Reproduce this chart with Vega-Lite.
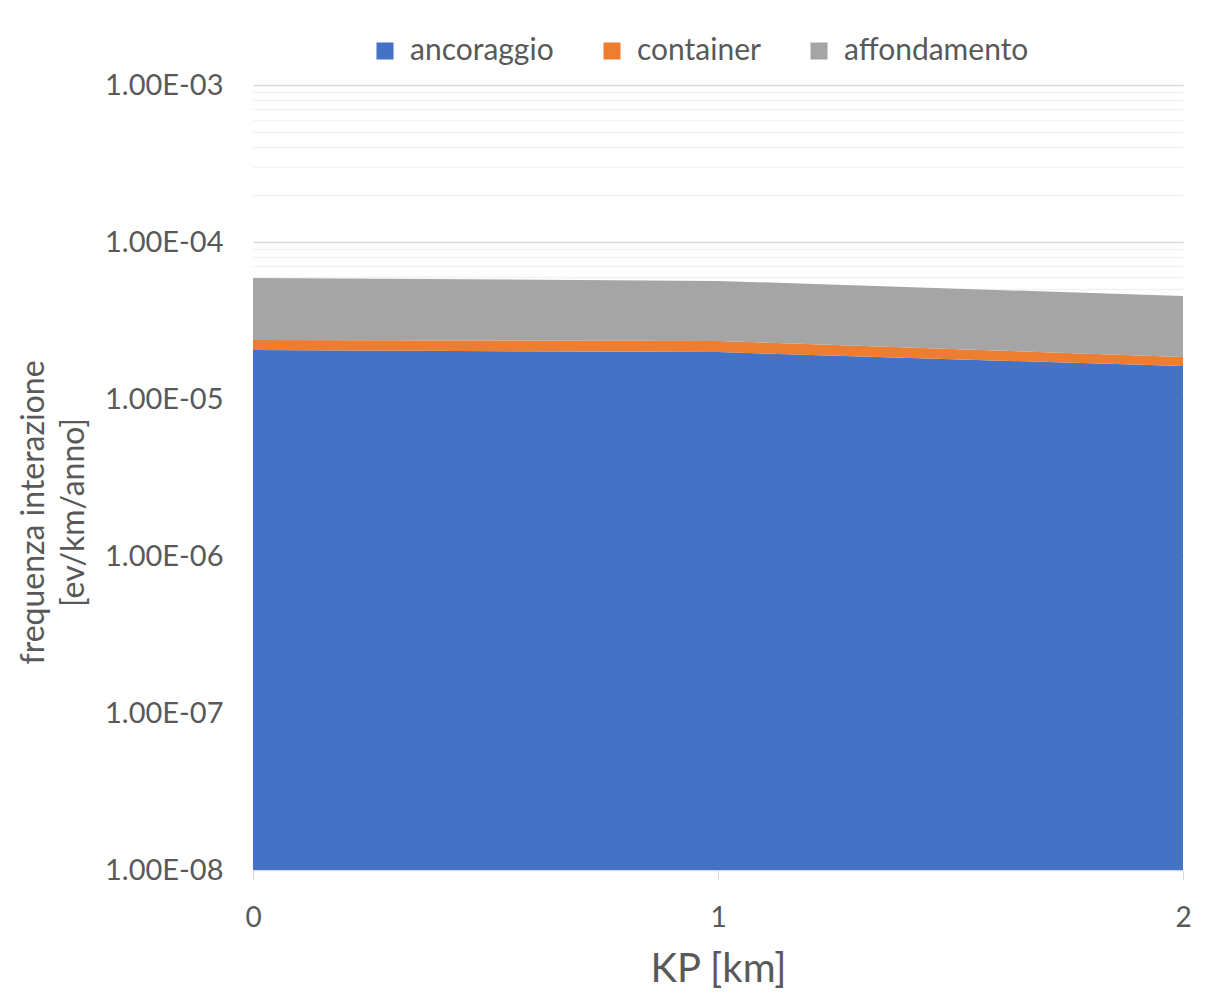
{
  "$schema": "https://vega.github.io/schema/vega-lite/v6.json",
  "autosize": "none",
  "width": 930,
  "height": 785,
  "padding": {"left": 253, "top": 85, "right": 24, "bottom": 135},
  "background": "white",
  "config": {
    "font": "Lato",
    "view": {"stroke": null},
    "axis": {"labelColor": "#595959", "titleColor": "#595959", "titleFontWeight": "normal", "labelFont": "Lato", "titleFont": "Lato"}
  },
  "data": {
    "values": [
      {"KP": 0, "serie": "ancoraggio", "k": 1, "freq": 2.05e-5},
      {"KP": 1, "serie": "ancoraggio", "k": 1, "freq": 1.99e-5},
      {"KP": 2, "serie": "ancoraggio", "k": 1, "freq": 1.62e-5},
      {"KP": 0, "serie": "container", "k": 2, "freq": 0.33e-5},
      {"KP": 1, "serie": "container", "k": 2, "freq": 0.35e-5},
      {"KP": 2, "serie": "container", "k": 2, "freq": 0.23e-5},
      {"KP": 0, "serie": "affondamento", "k": 3, "freq": 3.52e-5},
      {"KP": 1, "serie": "affondamento", "k": 3, "freq": 3.31e-5},
      {"KP": 2, "serie": "affondamento", "k": 3, "freq": 2.68e-5}
    ]
  },
  "mark": {"type": "area", "interpolate": "linear"},
  "encoding": {
    "x": {
      "field": "KP", "type": "quantitative",
      "scale": {"domain": [0, 2], "nice": false, "zero": false},
      "axis": {
        "tickCount": 2, "format": "d", "grid": false, "labelOverlap": false, "labelFlush": false,
        "domainColor": "#D9D9D9", "tickColor": "#D9D9D9", "tickSize": 10,
        "labelFontSize": 28, "labelPadding": 24,
        "title": "KP [km]", "titleFontSize": 40, "titlePadding": 17
      }
    },
    "y": {
      "field": "freq", "type": "quantitative", "stack": "zero",
      "scale": {"type": "log", "domain": [1e-8, 1e-3], "nice": false, "clamp": true},
      "axis": {
        "values": [1e-8, 2e-8, 3e-8, 4e-8, 5e-8, 6e-8, 7e-8, 8e-8, 9e-8,
                   1e-7, 2e-7, 3e-7, 4e-7, 5e-7, 6e-7, 7e-7, 8e-7, 9e-7,
                   1e-6, 2e-6, 3e-6, 4e-6, 5e-6, 6e-6, 7e-6, 8e-6, 9e-6,
                   1e-5, 2e-5, 3e-5, 4e-5, 5e-5, 6e-5, 7e-5, 8e-5, 9e-5,
                   1e-4, 2e-4, 3e-4, 4e-4, 5e-4, 6e-4, 7e-4, 8e-4, 9e-4, 1e-3],
        "labelExpr": "abs(log(datum.value)/LN10 - round(log(datum.value)/LN10)) < 1e-6 ? '1.00E-0' + (-round(log(datum.value)/LN10)) : ''",
        "domain": false, "ticks": false, "labelOverlap": false,
        "grid": true,
        "gridColor": {"condition": {"test": "abs(log(datum.value)/LN10 - round(log(datum.value)/LN10)) < 1e-6", "value": "#D9D9D9"}, "value": "#F2F2F2"},
        "gridWidth": 1.3,
        "labelFontSize": 29, "labelPadding": 30,
        "title": ["frequenza interazione", "[ev/km/anno]"],
        "titleFontSize": 32, "titleLineHeight": 40, "titlePadding": 14, "titleY": 427
      }
    },
    "color": {
      "field": "serie", "type": "nominal",
      "scale": {"domain": ["ancoraggio", "container", "affondamento"], "range": ["#4472C4", "#ED7D31", "#A5A5A5"]},
      "legend": {
        "title": null, "orient": "none", "direction": "horizontal",
        "legendX": 117, "legendY": -49,
        "symbolType": "square", "symbolSize": 290, "symbolStrokeWidth": 0, "symbolOpacity": 1,
        "labelFontSize": 30, "labelColor": "#595959", "labelFont": "Lato", "labelLimit": 400,
        "labelOffset": 10, "columnPadding": 43
      }
    },
    "order": {"field": "k", "type": "quantitative", "sort": "ascending"}
  }
}
